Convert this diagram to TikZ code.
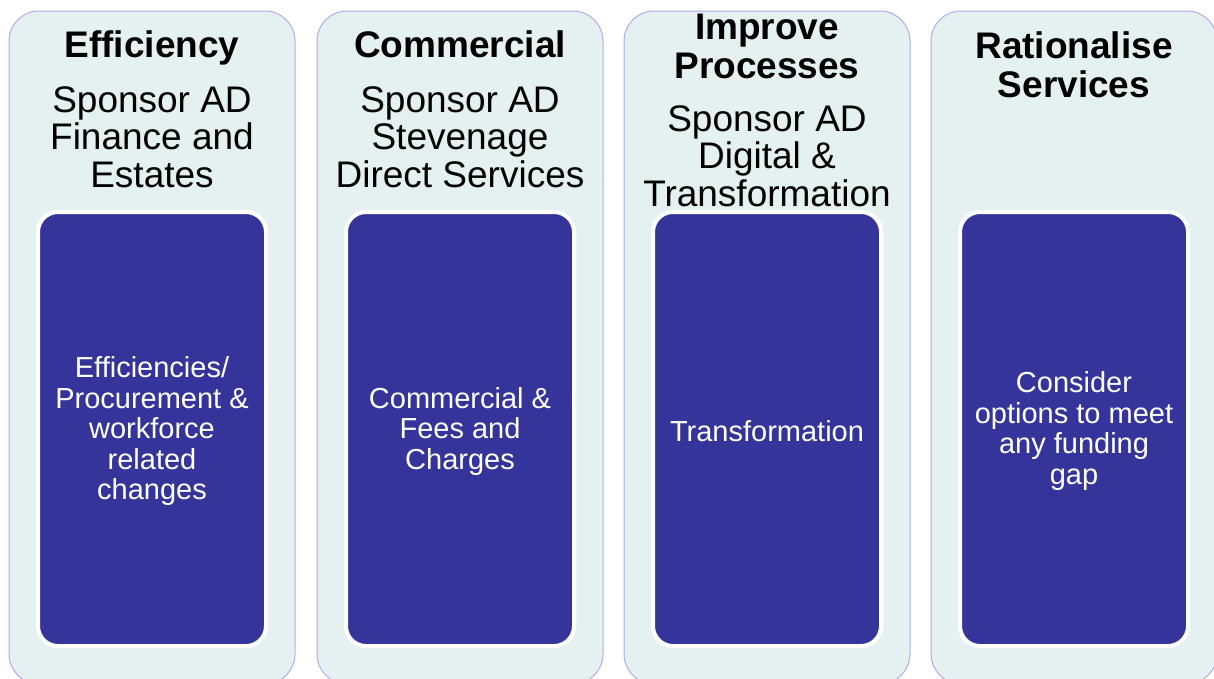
\documentclass[tikz,border=0pt]{standalone}
\usepackage{fontspec}
\setmainfont{Liberation Sans}
\definecolor{outerfill}{HTML}{E5F1F1}
\definecolor{outerline}{HTML}{ADADE6}
\definecolor{innerfill}{HTML}{35349A}
\begin{document}
\begin{tikzpicture}[x=1pt,y=-1pt,
  outerbox/.style={draw=outerline, line width=1pt, fill=outerfill, rounded corners=30pt,
    minimum width=286pt, minimum height=673pt, inner sep=0pt},
  innerbox/.style={draw=white, line width=4pt, fill=innerfill, rounded corners=20pt,
    minimum width=228pt, minimum height=434pt, inner sep=0pt},
  innertext/.style={text=white, align=center, inner sep=0pt,
    font=\fontsize{29}{30.5}\selectfont},
  titletext/.style={anchor=base, align=center, inner sep=0pt,
    font=\fontsize{37}{38.5}\selectfont\bfseries},
  bodytext/.style={anchor=base, align=center, inner sep=0pt,
    font=\fontsize{37}{37.5}\selectfont}]
\useasboundingbox (0,0) rectangle (1214,678);
\clip (0,0) rectangle (1214,678);
% outer columns
\node[outerbox] (o1) at (152,347.5) {};
\node[outerbox] (o2) at (460,347.5) {};
\node[outerbox] (o3) at (767,347.5) {};
\node[outerbox] (o4) at (1074,347.5) {};
% titles (anchor = baseline of last line)
\node[titletext] (t1) at (152,57) {Efficiency};
\node[titletext] (t2) at (460,57) {Commercial};
\node[titletext] (t3) at (767,78) {Improve\\Processes};
\node[titletext] (t4) at (1074,97) {Rationalise\\Services};
% sponsors
\node[bodytext] (s1) at (152,187) {Sponsor AD\\Finance and\\Estates};
\node[bodytext] (s2) at (460,187) {Sponsor AD\\Stevenage\\Direct Services};
\node[bodytext] (s3) at (767,206) {Sponsor AD\\Digital \&\\Transformation};
% inner boxes
\node[innerbox] (i1) at (152,429) {};
\node[innerbox] (i2) at (460,429) {};
\node[innerbox] (i3) at (767,429) {};
\node[innerbox] (i4) at (1074,429) {};
\node[innertext] (l1) at (i1.center) [yshift=-2pt] {Efficiencies/\\Procurement \&\\workforce\\related\\changes};
\node[innertext] (l2) at (i2.center) [yshift=-2pt] {Commercial \&\\Fees and\\Charges};
\node[innertext] (l3) at (i3.center) [yshift=-2pt] {Transformation};
\node[innertext] (l4) at (i4.center) [yshift=-2pt] {Consider\\options to meet\\any funding\\gap};
\end{tikzpicture}
\end{document}
